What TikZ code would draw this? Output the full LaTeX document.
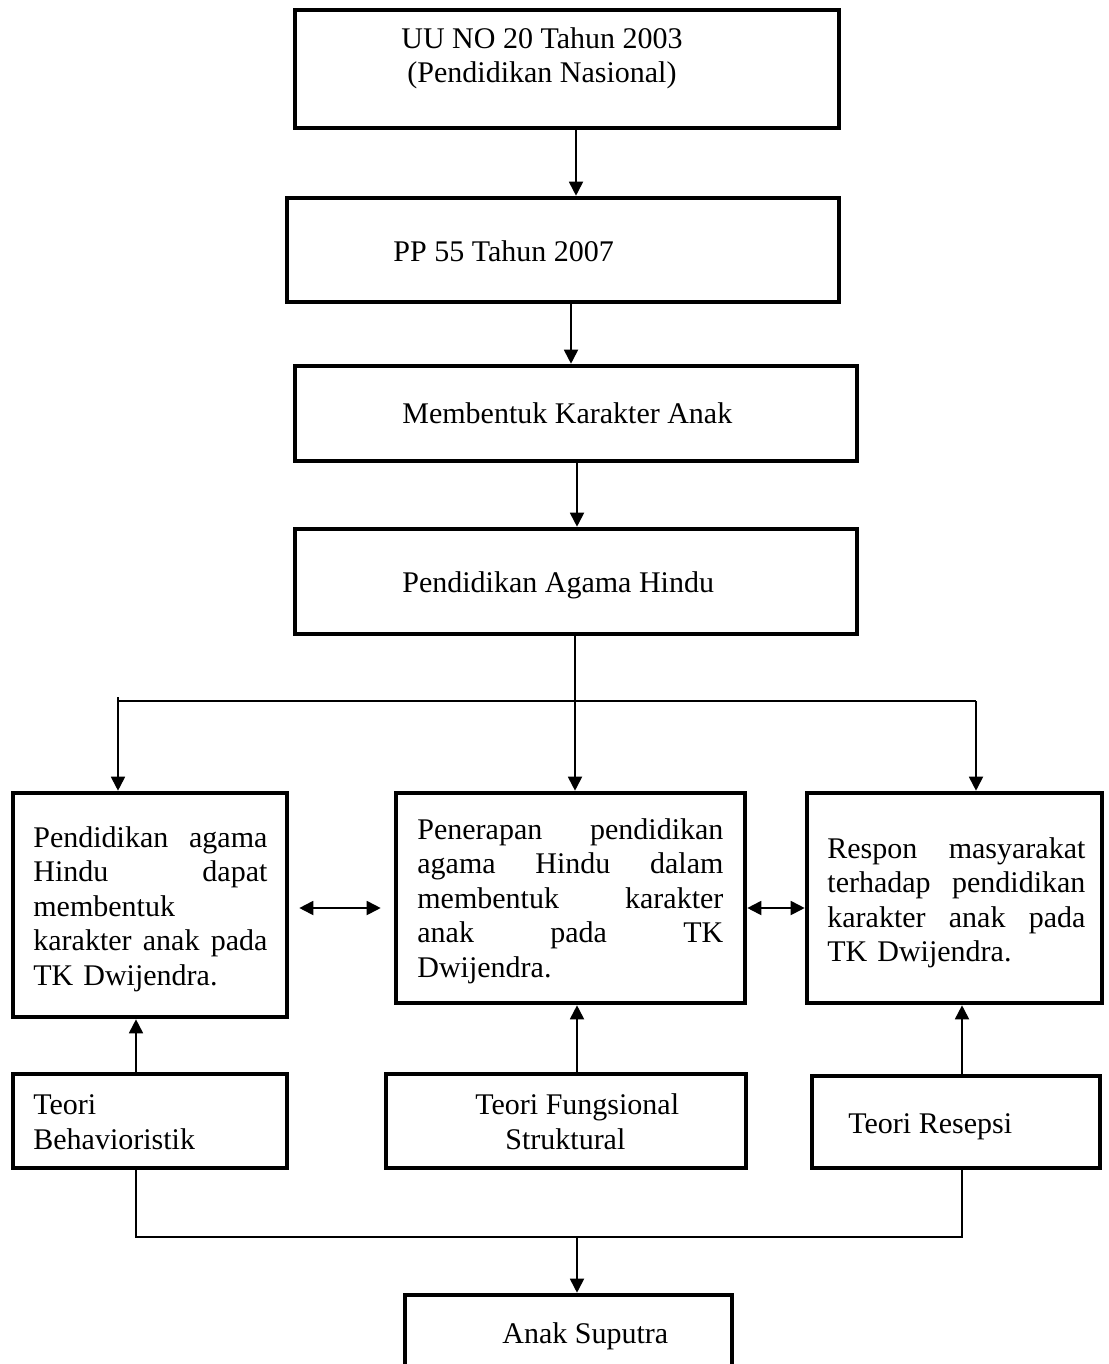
\documentclass[tikz,border=0pt]{standalone}
\usepackage{fontspec}
\setmainfont{Liberation Serif}
\usetikzlibrary{arrows.meta}

\begin{document}
\begin{tikzpicture}[x=0.5pt,y=-0.5pt,
    box/.style={draw,line width=2.3pt,inner sep=0pt},
    txt/.style={inner sep=0pt,anchor=base west,font=\fontsize{15pt}{17.25pt}\selectfont},
    conn/.style={line width=0.9pt},
    arr/.style={conn,-{Triangle[length=7pt,width=7pt]}},
    dbl/.style={conn,{Triangle[length=7pt,width=7pt]}-{Triangle[length=7pt,width=7pt]}}]
    \useasboundingbox (0,0) rectangle (1108,1364);

    \node[box,minimum width=272pt,minimum height=59pt] (uu) at (567,69) {};
    \node[box,minimum width=276pt,minimum height=52pt] (pp) at (563,250) {};
    \node[box,minimum width=281pt,minimum height=47.5pt] (karakter) at (576,413.5) {};
    \node[box,minimum width=281pt,minimum height=52.5pt] (agama) at (576,581.5) {};
    \node[box,minimum width=137pt,minimum height=112pt] (dapat) at (150,905) {};
    \node[box,minimum width=174.5pt,minimum height=105pt] (penerapan) at (570.5,898) {};
    \node[box,minimum width=147.5pt,minimum height=105pt] (respon) at (954.5,898) {};
    \node[box,minimum width=137pt,minimum height=47pt] (behav) at (150,1121) {};
    \node[box,minimum width=180pt,minimum height=47pt] (fungsi) at (566,1121) {};
    \node[box,minimum width=144pt,minimum height=46pt] (resepsi) at (956,1122) {};
    \node[box,minimum width=163.5pt,minimum height=47.5pt] (suputra) at (568.5,1342.5) {};

    \node[txt,anchor=base,align=center] (t-uu) at (542,83) {UU NO 20 Tahun 2003\\(Pendidikan Nasional)};
    \node[txt] (t-pp) at (393,262) {PP 55 Tahun 2007};
    \node[txt] (t-karakter) at (402,423) {Membentuk Karakter Anak};
    \node[txt] (t-agama) at (402,592) {Pendidikan Agama Hindu};
    \node[txt,text width=117pt,align=left] (t-dapat) at (33,847)
        {Pendidikan\hfill agama\\Hindu\hfill dapat\\membentuk\\karakter\hfill anak\hfill pada\\TK Dwijendra.};
    \node[txt,text width=153pt,align=left] (t-penerapan) at (417,839)
        {Penerapan\hfill pendidikan\\agama\hfill Hindu\hfill dalam\\membentuk\hfill karakter\\anak\hfill pada\hfill TK\\Dwijendra.};
    \node[txt,text width=129pt,align=left] (t-respon) at (827,858)
        {Respon\hfill masyarakat\\terhadap\hfill pendidikan\\karakter\hfill anak\hfill pada\\TK Dwijendra.};
    \node[txt,align=left] (t-behav) at (33,1149) {Teori\\Behavioristik};
    \node[txt,align=left] (t-fungsi) at (475,1149) {Teori Fungsional\\\hspace*{15pt}Struktural};
    \node[txt] (t-resepsi) at (848,1133) {Teori Resepsi};
    \node[txt] (t-suputra) at (502,1343) {Anak Suputra};

    \draw[arr] (576,0 |- uu.south) -- (576,0 |- pp.north);
    \draw[arr] (571,0 |- pp.south) -- (571,0 |- karakter.north);
    \draw[arr] (577,0 |- karakter.south) -- (577,0 |- agama.north);
    \draw[arr] (575,0 |- agama.south) -- (575,0 |- penerapan.north);
    \draw[arr] (118,697) -- (118,0 |- dapat.north);
    \draw[conn] (118,701) -- (976,701);
    \draw[arr] (976,701) -- (976,0 |- respon.north);

    \draw[dbl,shorten <=5pt,shorten >=6.5pt] (dapat.east |- 0,908) -- (penerapan.west |- 0,908);
    \draw[dbl] (penerapan.east |- 0,908) -- (respon.west |- 0,908);

    \draw[arr] (136,0 |- behav.north) -- (136,0 |- dapat.south);
    \draw[arr] (577,0 |- fungsi.north) -- (577,0 |- penerapan.south);
    \draw[arr] (962,0 |- resepsi.north) -- (962,0 |- respon.south);

    \draw[conn] (136,0 |- behav.south) -- (136,1237) -- (962,1237) -- (962,0 |- resepsi.south);
    \draw[arr] (577,1237) -- (577,0 |- suputra.north);

\end{tikzpicture}
\end{document}
